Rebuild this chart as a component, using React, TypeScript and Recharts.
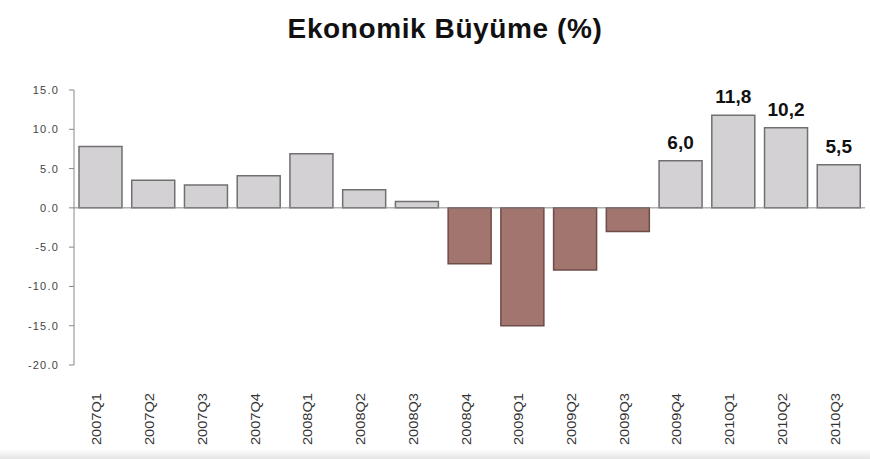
import { BarChart, Bar, Cell, XAxis, YAxis, ReferenceLine, LabelList } from "recharts"

const quarters = [
  "2007Q1", "2007Q2", "2007Q3", "2007Q4",
  "2008Q1", "2008Q2", "2008Q3", "2008Q4",
  "2009Q1", "2009Q2", "2009Q3", "2009Q4",
  "2010Q1", "2010Q2", "2010Q3",
]
const growth = [7.8, 3.5, 2.9, 4.1, 6.9, 2.3, 0.8, -7.1, -15.0, -7.9, -3.0, 6.0, 11.8, 10.2, 5.5]
const labelled = ["2009Q4", "2010Q1", "2010Q2", "2010Q3"]
const yTicks = [15, 10, 5, 0, -5, -10, -15, -20]

const data = quarters.map((q, i) => ({ q, v: growth[i] }))

const font = "'Liberation Sans', Arial, sans-serif"

const XTick = ({ x, y, payload }: any) => (
  <text
    x={x + 1}
    y={y}
    transform={`rotate(-90, ${x + 1}, ${y})`}
    textAnchor="end"
    fontSize={13}
    fontFamily={font}
    fill="#333"
    textLength={52}
    lengthAdjust="spacingAndGlyphs"
  >
    {payload.value}
  </text>
)

const YTick = ({ x, y, payload }: any) => (
  <text
    x={x - 8}
    y={y + 4}
    textAnchor="end"
    fontSize={11}
    fontFamily={font}
    fill="#444"
    letterSpacing={1.2}
  >
    {payload.value.toFixed(1)}
  </text>
)

const ValueLabel = ({ x, y, width, value, index }: any) => {
  if (!labelled.includes(quarters[index])) return null
  return (
    <text
      x={x + width / 2}
      y={y - 12}
      textAnchor="middle"
      fontSize={19}
      fontWeight="bold"
      fontFamily={font}
      fill="#111"
    >
      {value.toFixed(1).replace(".", ",")}
    </text>
  )
}

export default function App() {
  return (
    <div style={{ position: "absolute", left: 0, top: 0, width: 870, height: 459, background: "#fff", overflow: "hidden" }}>
      <div
        style={{
          position: "absolute",
          left: 0,
          top: 13,
          width: 890,
          textAlign: "center",
          fontFamily: font,
          fontWeight: "bold",
          fontSize: 28,
          letterSpacing: 0.6,
          color: "#111",
        }}
      >
        Ekonomik Büyüme (%)
      </div>
      <BarChart width={870} height={459} data={data} margin={{ top: 90, right: 5, left: 0, bottom: 0 }}>
        <YAxis
          width={74}
          domain={[-20, 15]}
          ticks={yTicks}
          interval={0}
          tick={<YTick />}
          tickSize={5}
          tickLine={{ stroke: "#888" }}
          axisLine={{ stroke: "#888" }}
        />
        <XAxis
          dataKey="q"
          height={94}
          interval={0}
          axisLine={false}
          tickLine={false}
          tick={<XTick />}
          tickMargin={22}
        />
        <ReferenceLine y={0} stroke="#888" />
        <Bar dataKey="v" barSize={43} isAnimationActive={false}>
          {data.map((d) => (
            <Cell
              key={d.q}
              fill={d.v < 0 ? "#a2766e" : "#d4d1d4"}
              stroke={d.v < 0 ? "#6e4c47" : "#707070"}
              strokeWidth={1.5}
            />
          ))}
          <LabelList dataKey="v" content={<ValueLabel />} />
        </Bar>
      </BarChart>
      <div
        style={{
          position: "absolute",
          left: 0,
          top: 449,
          width: 870,
          height: 10,
          background: "linear-gradient(#ffffff, #e4e4e4)",
        }}
      />
    </div>
  )
}
